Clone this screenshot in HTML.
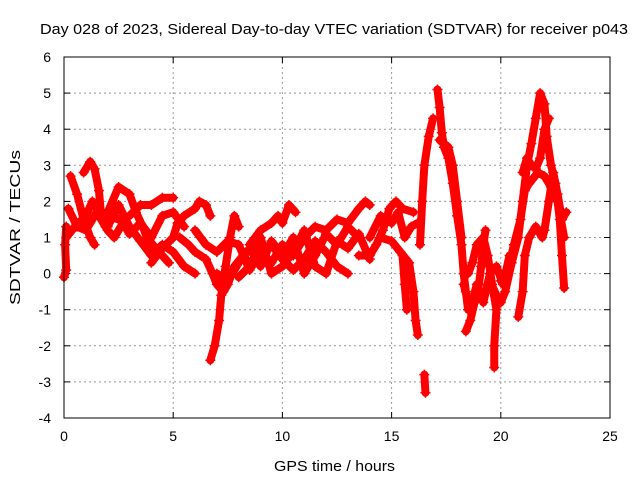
<!DOCTYPE html>
<html><head><meta charset="utf-8"><style>
body{margin:0;background:#fff;font-family:"Liberation Sans",sans-serif}
svg text{font-family:"Liberation Sans",sans-serif;font-size:14px;fill:#000}
</style></head><body>
<svg id="c" width="640" height="480">
<text x="40" y="34" textLength="588" lengthAdjust="spacingAndGlyphs" style="font-size:15px">Day 028 of 2023, Sidereal Day-to-day VTEC variation (SDTVAR) for receiver p043</text>
<text x="274" y="471" textLength="121" lengthAdjust="spacingAndGlyphs" style="font-size:15px">GPS time / hours</text>
<text transform="translate(20,305) rotate(-90)" textLength="155" lengthAdjust="spacingAndGlyphs" style="font-size:15px">SDTVAR / TECUs</text>
<g id="grid"></g><g id="data"></g>
<rect x="64" y="57" width="546" height="361" fill="none" stroke="#000"/>
</svg>
<script>
const xTicks=[0,5,10,15,20,25];
const yTicks=[-4,-3,-2,-1,0,1,2,3,4,5,6];
const tracks=[
[[0,-0.1],[0.1,0.1],[0.05,0.8],[0.1,1.3]],
[[0.3,2.7],[0.6,2.2],[0.9,1.5],[1.2,1.0],[1.4,0.8]],
[[0.9,2.8],[1.2,3.1],[1.4,2.9],[1.6,2.3],[1.7,1.6],[1.9,1.3]],
[[0.1,1.0],[0.5,1.3],[1.0,1.6],[1.3,2.0],[1.5,1.8],[2.0,1.6],[2.5,1.5],[3,1.6],[3.5,1.9],[4,1.9],[4.5,2.1],[5,2.1]],
[[2.0,1.7],[2.5,2.4],[3,2.2],[3.3,1.7],[3.6,1.3],[3.8,1.0],[4.2,0.7],[4.5,0.5],[4.8,0.3]],
[[4,0.3],[4.5,0.7],[5,1.0],[5.2,1.4],[5.5,1.6],[6,1.8],[6.2,2.0],[6.5,1.9],[6.7,1.6]],
[[5.3,1.0],[5.7,0.8],[6,0.6],[6.5,0.4],[6.8,0.0],[7.0,-0.3],[7.3,-0.5],[7.5,-0.3],[7.8,0.2],[8.2,0.5],[8.6,0.2],[9,0.6],[9.5,0.3],[10,0.8]],
[[6.7,-2.4],[6.9,-2.0],[7.1,-1.3],[7.2,-0.6],[7.4,0.2],[7.6,1.0],[7.8,1.6],[8.0,1.3]],
[[8.5,0.8],[9,1.2],[9.5,1.4],[9.8,1.6],[10,1.4],[10.3,1.9],[10.6,1.7]],
[[8,-0.1],[8.5,0.2],[9,0.5],[9.5,0.8],[10,0.4],[10.5,0.1],[11,0.4],[11.5,0.9],[12,0.6],[12.5,0.2],[13,0.0]],
[[10.5,0.5],[11,1.0],[11.5,1.3],[12,1.2],[12.5,1.5],[13,1.4],[13.5,1.8],[13.8,2.0],[14,1.9]],
[[13.5,0.5],[14,0.5],[14.3,0.8],[14.6,1.2],[14.9,1.8],[15.2,2.0],[15.5,1.8],[16,1.7]],
[[14.5,1.0],[15,0.9],[15.4,0.6],[15.8,0.3],[16,-0.5],[16.1,-1.3],[16.2,-1.7]],
[[15.5,0.5],[15.6,-0.3],[15.7,-1.0]],
[[16.5,-2.8],[16.55,-3.3]],
[[16.3,0.8],[16.4,2.0],[16.5,3.0],[16.7,3.8],[16.9,4.3]],
[[17.1,5.1],[17.2,4.6],[17.3,3.9],[17.4,3.5],[17.6,3.2],[17.8,2.5],[18,1.6],[18.2,0.8],[18.3,0.0],[18.4,-0.5],[18.5,-1.0]],
[[17.2,3.7],[17.6,3.5],[17.8,3.0],[18.0,2.0],[18.2,1.0]],
[[18.4,-1.6],[18.6,-1.3],[18.8,-0.8],[19,-0.3],[19.1,0.2],[19.2,0.8],[19.3,1.2]],
[[18.5,0.0],[18.7,0.3],[18.9,0.8],[19.2,1.0],[19.4,0.5],[19.6,-0.3],[19.8,-1.0],[19.7,-2.0],[19.7,-2.6]],
[[19.5,-0.2],[19.8,-0.6],[20,-0.8],[20.2,-0.5],[20.5,0.3],[20.8,1.0],[21,2.0],[21.2,3.0],[21.4,3.6],[21.6,4.3],[21.8,5.0],[22,4.7],[22.1,3.8],[22.3,3.0],[22.5,2.5],[22.7,1.5],[22.8,0.5],[22.9,-0.4]],
[[20.8,-1.2],[21,-0.5],[21.1,0.5],[21.3,1.0],[21.6,1.3],[21.9,1.0],[22,1.2],[22.2,2.0],[22.4,2.8],[22.6,2.2],[22.8,1.5],[23,1.7]],
[[21,2.8],[21.2,3.2],[21.4,3.0],[21.6,2.9],[21.8,3.2],[22,4.0],[22.2,4.3]],
[[7,0],[7.5,-0.2],[8,0.3],[8.5,0.7],[9,0.2],[9.5,0.9],[10,0.5],[10.5,1.0],[11,0.0],[11.5,0.5],[12,1.1],[12.5,0.8],[13,1.3],[13.5,1.0]],
[[6,1.2],[6.5,0.8],[7,0.6],[7.5,0.9],[8,0.8],[8.5,0.1],[9,1.0],[9.5,0.0],[10,0.2],[10.5,0.6],[11,1.2],[11.5,0.2],[12,0.0],[12.5,0.9],[13,0.7],[13.5,1.1],[14,0.4]],
[[0.2,1.8],[0.6,1.3],[1,1.2],[1.5,1.7],[2,1.2],[2.3,1.0],[2.7,1.4],[3,1.1],[3.5,1.4],[4,1.0],[4.5,1.6],[5,1.7],[5.5,1.3]],
[[2,1.3],[2.5,1.9],[3,1.3],[3.5,0.9],[4,0.5],[4.5,0.8],[5,0.6],[5.5,0.2],[6,0.0]],
[[14,1.0],[14.5,1.6],[15,1.4],[15.3,1.7],[15.6,1.0],[15.9,1.3],[16.2,1.4]],
[[18.3,-0.3],[18.6,-1.0],[18.9,-0.3],[19.2,-0.8],[19.5,0.0],[19.8,0.2],[20.1,-0.3],[20.4,0.5]],
[[20,-0.2],[20.3,0.0],[20.6,0.8],[20.9,1.5],[21.1,2.3],[21.3,2.5],[21.7,2.8],[22,2.7],[22.3,2.4],[22.6,2.0],[22.9,1.0]]
];
const NS='http://www.w3.org/2000/svg';
const X0=64,X1=610,Y0=418,Y1=57;
function sx(h){return X0+(h-0)/(25-0)*(X1-X0);}
function sy(v){return Y0-(v+4)/(10)*(Y0-Y1);}
const grid=document.getElementById('grid'),dg=document.getElementById('data');
function mk(tag,a,p){const e=document.createElementNS(NS,tag);for(const k in a)e.setAttribute(k,a[k]);p.appendChild(e);return e;}
xTicks.forEach(t=>{
 if(t>0&&t<25){const l=mk('line',{x1:sx(t),x2:sx(t),y1:Y1,y2:Y0,stroke:'#999','stroke-dasharray':'2,3'},grid);
 
 }
 mk('line',{x1:sx(t),x2:sx(t),y1:Y0,y2:Y0-6,stroke:'#000'},grid);
 mk('line',{x1:sx(t),x2:sx(t),y1:Y1,y2:Y1+6,stroke:'#000'},grid);
 const tx=mk('text',{x:sx(t),y:Y0+23,'text-anchor':'middle'},grid);tx.textContent=t;
 
 
});
yTicks.forEach(t=>{
 if(t>-4&&t<6){const l=mk('line',{x1:X0,x2:X1,y1:sy(t),y2:sy(t),stroke:'#999','stroke-dasharray':'2,3'},grid);
 
 }
 mk('line',{x1:X0,x2:X0+6,y1:sy(t),y2:sy(t),stroke:'#000'},grid);
 mk('line',{x1:X1,x2:X1-6,y1:sy(t),y2:sy(t),stroke:'#000'},grid);
 const tx=mk('text',{x:51,y:sy(t)+5,'text-anchor':'end'},grid);tx.textContent=t;
 
 
});
tracks.forEach((tr,i)=>{
 const p=mk('polyline',{points:tr.map(d=>sx(d[0])+','+sy(d[1])).join(' '),fill:'none',stroke:'#f00','stroke-width':8,'stroke-linejoin':'round','stroke-linecap':'round'},dg);
 
 
 tr.forEach(d=>{
  const x=sx(d[0]),y=sy(d[1]);
  const m=mk('path',{d:`M${x-5},${y}h10M${x},${y-5}v10`,stroke:'#f00','stroke-width':1.5},dg);
  
  
 });
});
</script>
</body></html>
